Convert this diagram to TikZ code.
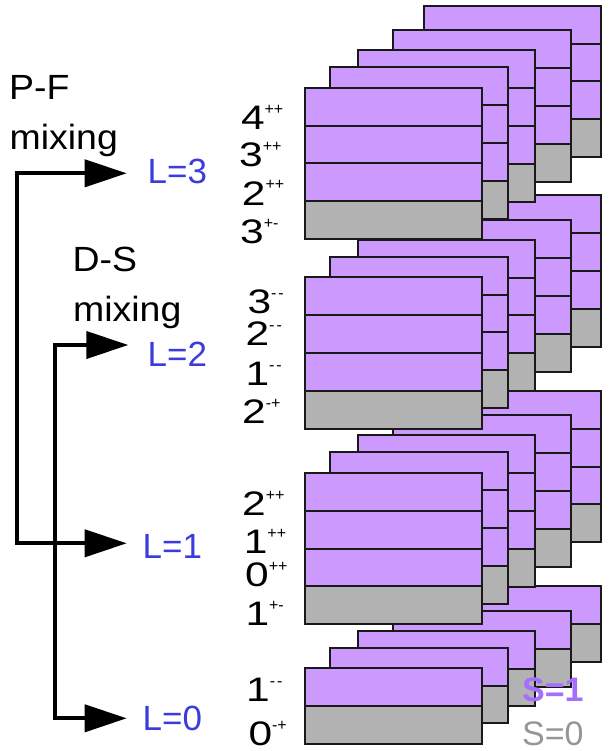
\documentclass[tikz,border=0pt]{standalone}
\usepackage{graphicx}
\usepackage{fontspec}
\setmainfont{Liberation Sans}
\usetikzlibrary{arrows.meta}

\definecolor{spinone}{RGB}{204,153,255}
\definecolor{spinzero}{RGB}{178,178,178}
\definecolor{lblue}{RGB}{60,60,220}
\definecolor{sonetext}{RGB}{166,110,255}
\definecolor{szerotext}{RGB}{150,150,150}
\definecolor{boxedge}{RGB}{25,25,25}

\tikzset{
  boxline/.style={draw=boxedge, line width=2pt},
  jpc/.style={anchor=base west, inner sep=0pt, font=\fontsize{34}{38}\selectfont},
  lval/.style={anchor=base west, inner sep=0pt, text=lblue, font=\fontsize{35}{40}\selectfont},
  mixlabel/.style={anchor=base west, inner sep=0pt, font=\fontsize{35}{42}\selectfont},
  spinlabel/.style={anchor=base west, inner sep=0pt, font=\fontsize{34}{40}\selectfont},
  conn/.style={line width=4pt, {Triangle[length=42pt,width=27pt]}-{Triangle[length=42pt,width=27pt]}}
}

% J with its P and C parities as a superscript
\newcommand\jpc[2]{\scalebox{1.25}[1]{#1}\raisebox{15pt}{\fontsize{16}{16}\selectfont #2}}
% slightly widened caption text
\newcommand\wide[1]{\scalebox{1.07}[1]{#1}}

% one multiplet card: left, top, number of rows (last row is the S=0 state)
\newcommand\jpcbox[3]{%
  \pgfmathsetmacro\cardh{#3*37.9}%
  \pgfmathsetmacro\graytop{#2+(#3-1)*37.9}%
  \pgfmathtruncatemacro\innerlines{#3-1}%
  \fill[spinone] (#1,#2) rectangle ++(177.6,\cardh);
  \fill[spinzero] (#1,\graytop) rectangle ++(177.6,37.9);
  \foreach \k in {1,...,\innerlines}{\draw[boxline] (#1,{#2+\k*37.9}) -- ++(177.6,0);}
  \draw[boxline] (#1,#2) rectangle ++(177.6,\cardh);
}

% a stack of five cards (one per radial excitation), drawn back to front
\newcommand\jpcstack[2]{%
  \foreach \dx/\dy in {119/-82, 88.6/-57.4, 53/-37.7, 25.3/-20.7, 0/0}{%
    \pgfmathsetmacro\bx{304.7+\dx}%
    \pgfmathsetmacro\by{87.7+#1+\dy}%
    \jpcbox{\bx}{\by}{#2}%
  }%
}

\begin{document}
\begin{tikzpicture}[x=1pt,y=-1pt]
\useasboundingbox (0,0) rectangle (615,751);

% card stacks, lowest L at the back
\jpcstack{580.6}{2}
\jpcstack{385}{4}
\jpcstack{189.6}{4}
\jpcstack{0}{4}

% J^PC labels
\node[jpc] (f1) at (240.8,130)   {\jpc{4}{++}};
\node[jpc] (f2) at (239,166.7)   {\jpc{3}{++}};
\node[jpc] (f3) at (241.7,205)   {\jpc{2}{++}};
\node[jpc] (f4) at (240,243.3)   {\jpc{3}{+-}};

\node[jpc] (d1) at (247.3,313.3) {\jpc{3}{-\kern2pt-}};
\node[jpc] (d2) at (245.4,345)   {\jpc{2}{-\kern2pt-}};
\node[jpc] (d3) at (245.3,385)   {\jpc{1}{-\kern2pt-}};
\node[jpc] (d4) at (242,423.3)   {\jpc{2}{-+}};

\node[jpc] (p1) at (242,515)     {\jpc{2}{++}};
\node[jpc] (p2) at (243.6,553.3) {\jpc{1}{++}};
\node[jpc] (p3) at (245,586.7)   {\jpc{0}{++}};
\node[jpc] (p4) at (245.3,625)   {\jpc{1}{+-}};

\node[jpc] (s1) at (246,701.7)   {\jpc{1}{-\kern2pt-}};
\node[jpc] (s2) at (248.3,745)   {\jpc{0}{-+}};

% orbital angular momentum
\node[lval] (L3) at (147.5,183.3) {L=3};
\node[lval] (L2) at (147.5,366.7) {L=2};
\node[lval] (L1) at (142.5,558.3) {L=1};
\node[lval] (L0) at (142.5,730)   {L=0};

% mixing labels
\node[mixlabel] (pf)  at (9,100)      {\wide{P-F}};
\node[mixlabel] (pfm) at (9.5,150)    {\wide{mixing}};
\node[mixlabel] (ds)  at (72.5,271.7) {\wide{D-S}};
\node[mixlabel] (dsm) at (73,321.7)   {\wide{mixing}};

% spin legend
\node[spinlabel, text=sonetext, font=\fontsize{34}{40}\selectfont\bfseries] (S1) at (522,701.7) {S=1};
\node[spinlabel, text=szerotext] (S0) at (522,745) {S=0};

% mixing connectors
\coordinate (pfTop) at (16.7,173.3);
\coordinate (pfBot) at (16.7,543.3);
\coordinate (dsTop) at (55,345);
\coordinate (dsBot) at (55,718.3);

\draw[conn, shorten <=20.8pt, shorten >=15.8pt]
  (pfTop -| L3.west) -- (pfTop) -- (pfBot) -- (pfBot -| L1.west);
\draw[conn, shorten <=19.2pt, shorten >=15.8pt]
  (dsTop -| L2.west) -- (dsTop) -- (dsBot) -- (dsBot -| L0.west);
\end{tikzpicture}
\end{document}
